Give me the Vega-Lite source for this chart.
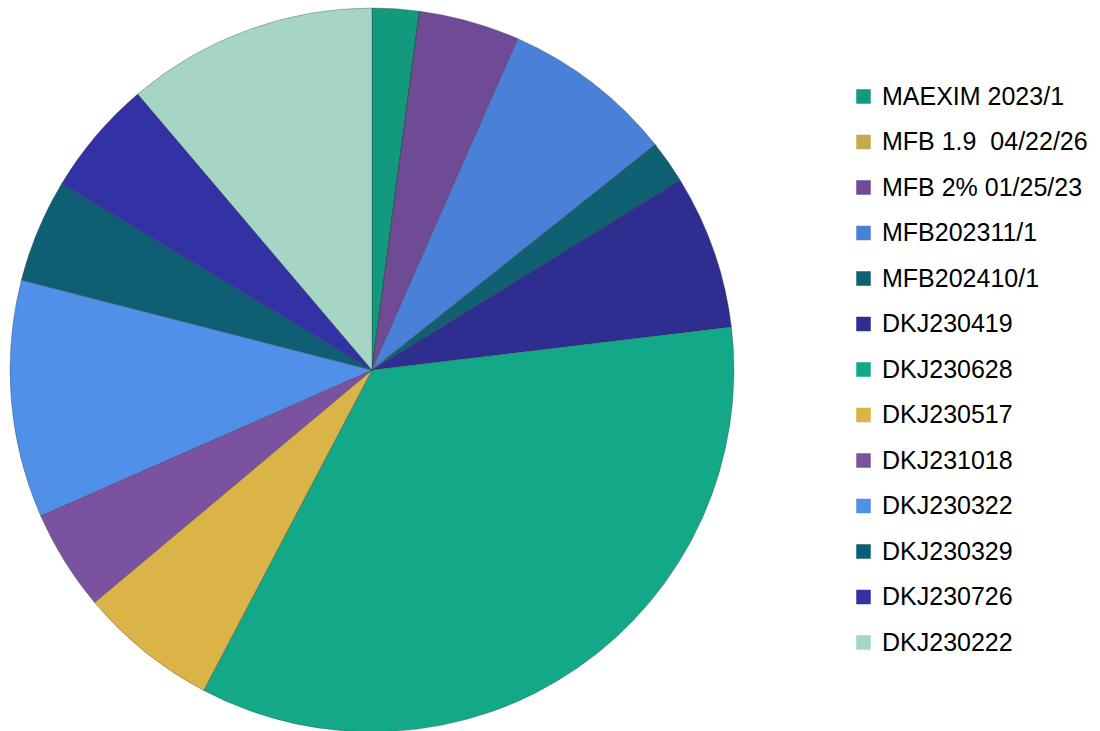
{
  "$schema": "https://vega.github.io/schema/vega-lite/v6.json",
  "width": 744,
  "height": 740,
  "padding": 0,
  "background": "white",
  "config": {"view": {"stroke": null}},
  "data": {
    "values": [
      {"i": 1, "name": "MAEXIM 2023/1", "v": 2.1},
      {"i": 2, "name": "MFB 1.9\u00a0 04/22/26", "v": 0},
      {"i": 3, "name": "MFB 2% 01/25/23", "v": 4.5},
      {"i": 4, "name": "MFB202311/1", "v": 7.7},
      {"i": 5, "name": "MFB202410/1", "v": 1.9},
      {"i": 6, "name": "DKJ230419", "v": 6.9},
      {"i": 7, "name": "DKJ230628", "v": 34.6},
      {"i": 8, "name": "DKJ230517", "v": 6.2},
      {"i": 9, "name": "DKJ231018", "v": 4.5},
      {"i": 10, "name": "DKJ230322", "v": 10.6},
      {"i": 11, "name": "DKJ230329", "v": 4.6},
      {"i": 12, "name": "DKJ230726", "v": 5.2},
      {"i": 13, "name": "DKJ230222", "v": 11.2}
    ]
  },
  "mark": {"type": "arc", "outerRadius": 362, "stroke": "#2a2a2a", "strokeWidth": 0.6, "strokeOpacity": 0.5},
  "encoding": {
    "theta": {"field": "v", "type": "quantitative", "stack": true},
    "order": {"field": "i", "type": "quantitative"},
    "color": {
      "field": "name",
      "type": "nominal",
      "scale": {
        "domain": ["MAEXIM 2023/1", "MFB 1.9\u00a0 04/22/26", "MFB 2% 01/25/23", "MFB202311/1", "MFB202410/1", "DKJ230419", "DKJ230628", "DKJ230517", "DKJ231018", "DKJ230322", "DKJ230329", "DKJ230726", "DKJ230222"],
        "range": ["#139a7e", "#c8a84a", "#6f4b96", "#4a80d8", "#0f6070", "#2e2e90", "#12a888", "#dab446", "#7b52a0", "#5190e8", "#0e5f73", "#3232a5", "#a5d6c5"]
      },
      "legend": {
        "title": null,
        "orient": "none",
        "legendX": 851,
        "legendY": 84,
        "symbolType": "square",
        "symbolSize": 210,
        "symbolStrokeWidth": 0,
        "symbolOpacity": 1,
        "labelFont": "Liberation Sans",
        "labelFontSize": 25,
        "labelColor": "#000000",
        "labelOffset": 6,
        "labelLimit": 400,
        "rowPadding": 19.5,
        "padding": 0
      }
    }
  }
}
